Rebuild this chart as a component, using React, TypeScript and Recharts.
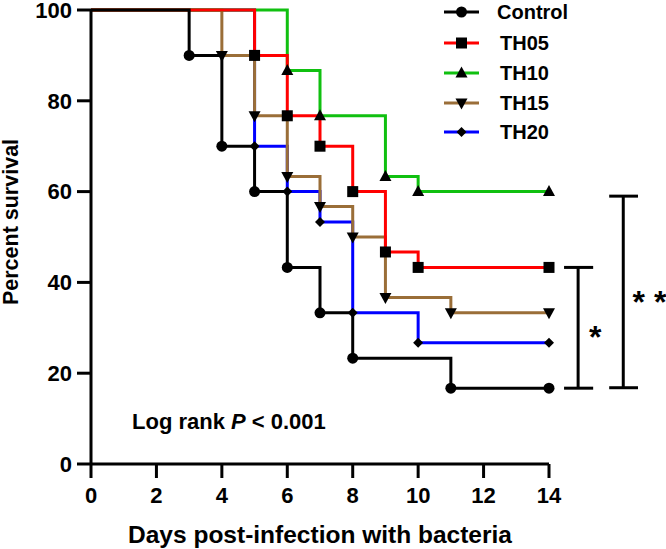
import React from "react"
import {
  LineChart, Line, XAxis, YAxis, ReferenceLine, ReferenceDot, Label,
} from "recharts"

// survival curves, % alive at each day (step happens at that day)
const controlDays = [0, 3, 4, 5, 6, 7, 8, 11, 14]
const controlSurv = [100, 90, 70, 60, 43.3, 33.3, 23.3, 16.7, 16.7]
const th05Days = [0, 5, 6, 7, 8, 9, 10, 14]
const th05Surv = [100, 90, 76.7, 70, 60, 46.7, 43.3, 43.3]
const th10Days = [0, 6, 7, 9, 10, 14]
const th10Surv = [100, 86.7, 76.7, 63.3, 60, 60]
const th15Days = [0, 4, 5, 6, 7, 8, 9, 11, 14]
const th15Surv = [100, 90, 76.7, 63.3, 56.7, 50, 36.7, 33.3, 33.3]
const th20Days = [0, 5, 6, 7, 8, 10, 14]
const th20Surv = [100, 70, 60, 53.3, 33.3, 26.7, 26.7]

const xTicks = [0, 2, 4, 6, 8, 10, 12, 14]
const yTicks = [0, 20, 40, 60, 80, 100]

const FONT = "'Liberation Sans', Arial, Helvetica, sans-serif"

type Shape = "circle" | "square" | "up" | "down" | "diamond"

const toPoints = (days: number[], surv: number[]) =>
  days.map((d, i) => ({ day: d, surv: surv[i], mark: i > 0 }))

const SERIES = [
  { name: "Control", color: "#000000", shape: "circle" as Shape, data: toPoints(controlDays, controlSurv) },
  { name: "TH05",    color: "#ff0000", shape: "square" as Shape, data: toPoints(th05Days, th05Surv) },
  { name: "TH10",    color: "#10c010", shape: "up" as Shape,     data: toPoints(th10Days, th10Surv) },
  { name: "TH15",    color: "#9a6e38", shape: "down" as Shape,   data: toPoints(th15Days, th15Surv) },
  { name: "TH20",    color: "#0000ff", shape: "diamond" as Shape, data: toPoints(th20Days, th20Surv) },
]

function Marker({ shape, cx, cy }: { shape: Shape; cx: number; cy: number }) {
  switch (shape) {
    case "circle":
      return <circle cx={cx} cy={cy} r={5.5} fill="#000" />
    case "square":
      return <rect x={cx - 5.5} y={cy - 5.5} width={11} height={11} fill="#000" />
    case "up":
      return <polygon points={`${cx},${cy - 6.5} ${cx + 6},${cy + 4.5} ${cx - 6},${cy + 4.5}`} fill="#000" />
    case "down":
      return <polygon points={`${cx - 6},${cy - 4.5} ${cx + 6},${cy - 4.5} ${cx},${cy + 6.5}`} fill="#000" />
    default:
      return <polygon points={`${cx},${cy - 5} ${cx + 5},${cy} ${cx},${cy + 5} ${cx - 5},${cy}`} fill="#000" />
  }
}

const dotFor = (shape: Shape) => (p: any) => {
  if (!p.payload?.mark) return <g key={`n-${p.index}`} />
  return <g key={`d-${p.index}`}><Marker shape={shape} cx={p.cx} cy={p.cy} /></g>
}

const tickStyle = { fill: "#000", fontSize: 22, fontWeight: 700, fontFamily: FONT }

// legend rows: y position of each line
const legendY = [12, 43, 73, 103, 132]

export default function App() {
  return (
    <div style={{ position: "absolute", left: 0, top: 0, width: 666, height: 549, background: "#fff" }}>
      <LineChart width={666} height={549} margin={{ top: 10, right: 117, bottom: 0, left: 0 }}>
        <XAxis
          dataKey="day"
          type="number"
          domain={[0, 14]}
          ticks={xTicks}
          interval={0}
          height={85}
          tick={tickStyle}
          tickSize={14}
          tickMargin={9}
          axisLine={{ stroke: "#000", strokeWidth: 3 }}
          tickLine={{ stroke: "#000", strokeWidth: 3 }}
        >
          <Label
            content={({ viewBox }: any) => (
              <text
                x={viewBox.x + viewBox.width / 2}
                y={543}
                textAnchor="middle"
                fontSize={24.5}
                fontWeight={700}
                fontFamily={FONT}
                fill="#000"
              >
                Days post-infection with bacteria
              </text>
            )}
          />
        </XAxis>
        <YAxis
          type="number"
          domain={[0, 100]}
          ticks={yTicks}
          interval={0}
          width={91}
          tick={tickStyle}
          tickSize={14}
          tickMargin={5}
          axisLine={{ stroke: "#000", strokeWidth: 3 }}
          tickLine={{ stroke: "#000", strokeWidth: 3 }}
        >
          <Label
            content={() => (
              <text
                x={11}
                y={222}
                transform="rotate(-90 11 222)"
                textAnchor="middle"
                dominantBaseline="central"
                fontSize={21.5}
                fontWeight={700}
                fontFamily={FONT}
                fill="#000"
              >
                Percent survival
              </text>
            )}
          />
        </YAxis>

        {/* drawn bottom-up so Control ends on top */}
        {[...SERIES].reverse().map(s => (
          <Line
            key={s.name}
            data={s.data}
            dataKey="surv"
            name={s.name}
            type="stepAfter"
            stroke={s.color}
            strokeWidth={3}
            dot={dotFor(s.shape)}
            activeDot={false}
            isAnimationActive={false}
          />
        ))}

        {/* significance brackets */}
        <ReferenceLine ifOverflow="visible" stroke="#000" strokeWidth={3} segment={[{ x: 14.89, y: 43.3 }, { x: 14.89, y: 16.7 }]} />
        <ReferenceLine ifOverflow="visible" stroke="#000" strokeWidth={3} segment={[{ x: 14.46, y: 43.3 }, { x: 15.35, y: 43.3 }]} />
        <ReferenceLine ifOverflow="visible" stroke="#000" strokeWidth={3} segment={[{ x: 14.46, y: 16.7 }, { x: 15.35, y: 16.7 }]} />
        <ReferenceLine ifOverflow="visible" stroke="#000" strokeWidth={3} segment={[{ x: 16.27, y: 59 }, { x: 16.27, y: 16.8 }]} />
        <ReferenceLine ifOverflow="visible" stroke="#000" strokeWidth={3} segment={[{ x: 15.84, y: 59 }, { x: 16.72, y: 59 }]} />
        <ReferenceLine ifOverflow="visible" stroke="#000" strokeWidth={3} segment={[{ x: 15.84, y: 16.8 }, { x: 16.72, y: 16.8 }]} />
        <ReferenceDot
          x={15.41} y={29.2} r={0} ifOverflow="visible"
          shape={(p: any) => (
            <text x={p.cx} y={p.cy + 17} textAnchor="middle" fontSize={32} fontWeight={700} fontFamily={FONT} fill="#000">*</text>
          )}
        />
        <ReferenceDot
          x={17.07} y={37.1} r={0} ifOverflow="visible"
          shape={(p: any) => (
            <text x={p.cx} y={p.cy + 17} textAnchor="middle" fontSize={32} fontWeight={700} fontFamily={FONT} fill="#000">* *</text>
          )}
        />
      </LineChart>

      {/* legend + annotation */}
      <svg width={666} height={549} style={{ position: "absolute", left: 0, top: 0, pointerEvents: "none" }}>
        {SERIES.map((s, i) => (
          <g key={s.name}>
            <line x1={444} x2={479} y1={legendY[i]} y2={legendY[i]} stroke={s.color} strokeWidth={3} />
            <Marker shape={s.shape} cx={461.5} cy={legendY[i]} />
            <text
              x={i === 0 ? 497 : 500}
              y={legendY[i]}
              dominantBaseline="central"
              fontSize={20}
              fontWeight={700}
              fontFamily={FONT}
              fill="#000"
            >
              {s.name}
            </text>
          </g>
        ))}
        <text x={132} y={429} fontSize={22} fontWeight={700} fontFamily={FONT} fill="#000">
          Log rank <tspan fontStyle="italic">P</tspan> &lt; 0.001
        </text>
      </svg>
    </div>
  )
}
